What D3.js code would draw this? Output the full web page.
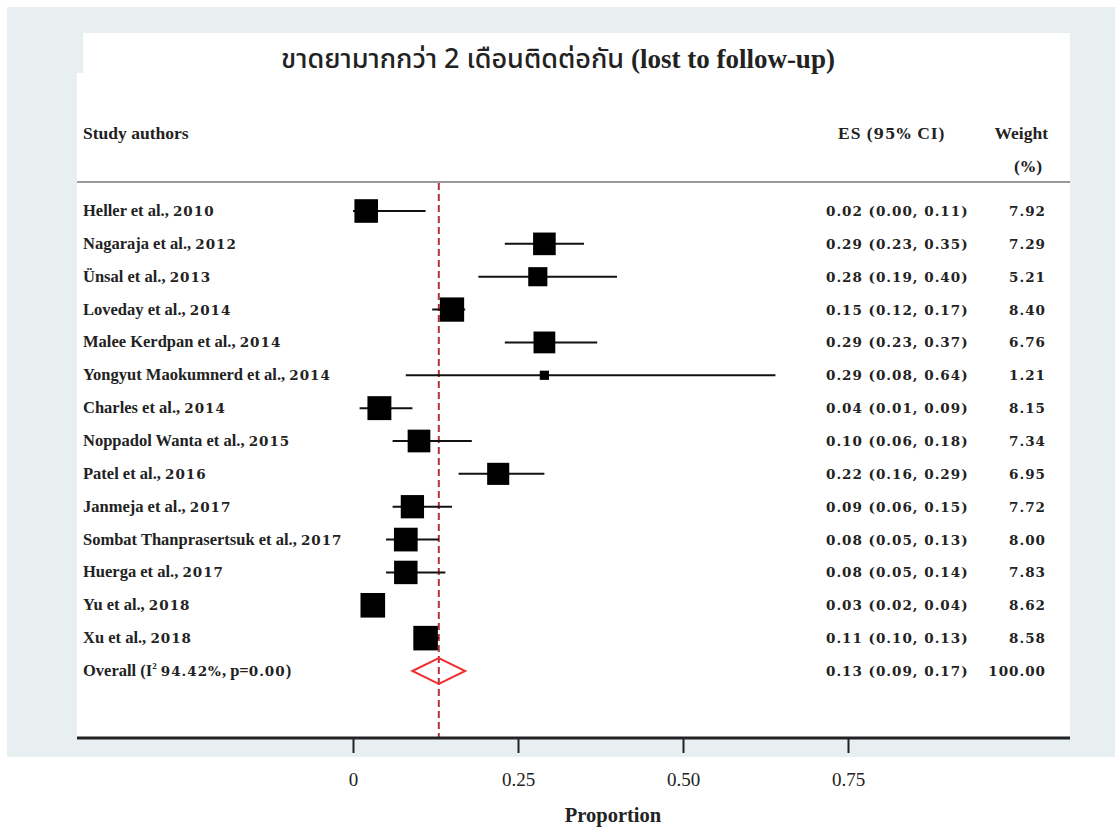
<!DOCTYPE html>
<html>
<head>
<meta charset="utf-8">
<script src="https://cdn.jsdelivr.net/npm/d3@7"></script>
<style>
  body { margin: 0; background: #fff; }
  text { fill: #222; }
</style>
</head>
<body>
<div id="chart"></div>
<script>
"use strict";

// study rows, top to bottom
const studies = [
    "Heller et al., 2010",
    "Nagaraja et al., 2012",
    "Ünsal et al., 2013",
    "Loveday et al., 2014",
    "Malee Kerdpan et al., 2014",
    "Yongyut Maokumnerd et al., 2014",
    "Charles et al., 2014",
    "Noppadol Wanta et al., 2015",
    "Patel et al., 2016",
    "Janmeja et al., 2017",
    "Sombat Thanprasertsuk et al., 2017",
    "Huerga et al., 2017",
    "Yu et al., 2018",
    "Xu et al., 2018"
];
const es = [0.02, 0.29, 0.28, 0.15, 0.29, 0.29, 0.04, 0.10, 0.22, 0.09, 0.08, 0.08, 0.03, 0.11];
const lower = [0.00, 0.23, 0.19, 0.12, 0.23, 0.08, 0.01, 0.06, 0.16, 0.06, 0.05, 0.05, 0.02, 0.10];
const upper = [0.11, 0.35, 0.40, 0.17, 0.37, 0.64, 0.09, 0.18, 0.29, 0.15, 0.13, 0.14, 0.04, 0.13];
const weights = [7.92, 7.29, 5.21, 8.40, 6.76, 1.21, 8.15, 7.34, 6.95, 7.72, 8.00, 7.83, 8.62, 8.58];

// pooled estimate
const overallLabel = "Overall";
const overallHet = " 94.42%, p=0.00)";
const overall = { es: 0.13, lo: 0.09, hi: 0.17, w: 100.00 };

const tickValues = [0, 0.25, 0.50, 0.75];
const tickLabels = ["0", "0.25", "0.50", "0.75"];

const title = "ขาดยามากกว่า 2 เดือนติดต่อกัน";
const titleEn = " (lost to follow-up)";

const msm = {
    width: 1115,
    height: 827,
    panelLeft: 77,
    panelRight: 1070,
    panelTop: 33,
    axisY: 738
};

const serif = "'Liberation Serif', 'Times New Roman', serif";
const numFont = "'DejaVu Serif', 'Liberation Serif', serif";

let svg = d3.select("#chart").append("svg")
    .attr("width", msm.width)
    .attr("height", msm.height);

// background frame and white panel
svg.append("rect")
    .attr("x", 7).attr("y", 7)
    .attr("width", msm.width - 7).attr("height", 750)
    .attr("fill", "#e8eff1");
svg.append("rect")
    .attr("x", msm.panelLeft).attr("y", msm.panelTop + 40)
    .attr("width", msm.panelRight - msm.panelLeft)
    .attr("height", msm.axisY - msm.panelTop - 40)
    .attr("fill", "#fff");
svg.append("rect")
    .attr("x", 83).attr("y", msm.panelTop)
    .attr("width", msm.panelRight - 83).attr("height", 45)
    .attr("fill", "#fff");

// scales
let xScale = d3.scaleLinear().domain([0, 1]).range([353, 1013]);
let rowNames = studies.concat([overallLabel]);
let yScale = d3.scalePoint().domain(d3.range(rowNames.length)).range([211, 671]);
let boxSide = d3.scaleSqrt().domain([0, 10]).range([0, 26.5]);

// title
let t = svg.append("text")
    .attr("x", 558).attr("y", 68)
    .attr("text-anchor", "middle")
    .style("font-size", "27px");
t.append("tspan")
    .style("font-family", "'Noto Sans Thai', 'Noto Sans', 'DejaVu Sans', sans-serif")
    .style("font-weight", "500")
    .text(title);
t.append("tspan")
    .style("font-family", serif)
    .style("font-weight", "bold")
    .text(titleEn);

// letters in a Times-like face, numbers in a wider serif
const numStyle = (sel) => sel.style("font-family", numFont).style("font-weight", "bold")
    .style("font-size", "13.5px").style("letter-spacing", "1px");
const wordStyle = (sel) => sel.style("font-family", serif).style("font-weight", "bold")
    .style("font-size", "16.5px").style("letter-spacing", "0px");
const headNum = (sel) => sel.style("font-family", numFont).style("font-weight", "bold")
    .style("font-size", "15px").style("letter-spacing", "1px");
const headWord = (sel) => sel.style("font-family", serif).style("font-weight", "bold")
    .style("font-size", "17.5px").style("letter-spacing", "1px");

function mixedText(sel, str, wStyle, nStyle) {
    str.split(/(\d[\d.]*%?|%)/).filter((s) => s.length).forEach((s) => {
        let span = sel.append("tspan").text(s);
        if (/^[\d%]/.test(s)) span.call(nStyle); else span.call(wStyle);
    });
}

// column headers
svg.append("text").attr("x", 83).attr("y", 139)
    .call(headWord).style("letter-spacing", "0px").text("Study authors");
svg.append("text").attr("x", 838).attr("y", 139)
    .each(function () { mixedText(d3.select(this), "ES (95% CI)", headWord, headNum); });
svg.append("text").attr("x", 1048).attr("y", 139).attr("text-anchor", "end")
    .call(headWord).style("letter-spacing", "0px").text("Weight");
svg.append("text").attr("x", 1043).attr("y", 172).attr("text-anchor", "end")
    .each(function () { mixedText(d3.select(this), "(%)", headWord, headNum); });

// header rule
svg.append("line")
    .attr("x1", msm.panelLeft).attr("x2", msm.panelRight)
    .attr("y1", 182).attr("y2", 182)
    .attr("stroke", "#999").attr("stroke-width", 2);

// pooled estimate reference line
svg.append("line")
    .attr("x1", xScale(overall.es)).attr("x2", xScale(overall.es))
    .attr("y1", 183).attr("y2", msm.axisY)
    .attr("stroke", "#b5303c")
    .attr("stroke-width", 2)
    .attr("stroke-dasharray", "7,4");

// row labels
svg.selectAll(".label")
    .data(studies)
    .enter()
    .append("text")
    .attr("class", "label")
    .attr("x", 83)
    .attr("y", (d, i) => yScale(i) + 5)
    .each(function (d) { mixedText(d3.select(this), d, wordStyle, numStyle); });

let ov = svg.append("text")
    .attr("x", 83).attr("y", yScale(studies.length) + 5);
ov.append("tspan").text(overallLabel + " (I").call(wordStyle);
ov.append("tspan").attr("dy", -7).call(wordStyle).style("font-size", "9px").text("2");
let ovRest = ov.append("tspan").attr("dy", 7);
mixedText(ovRest, overallHet, wordStyle, numStyle);

// CI lines
svg.selectAll(".ci")
    .data(studies)
    .enter()
    .append("line")
    .attr("class", "ci")
    .attr("x1", (d, i) => xScale(lower[i]))
    .attr("x2", (d, i) => xScale(upper[i]))
    .attr("y1", (d, i) => yScale(i))
    .attr("y2", (d, i) => yScale(i))
    .attr("stroke", "#111")
    .attr("stroke-width", 2);

// weighted boxes
svg.selectAll(".box")
    .data(studies)
    .enter()
    .append("rect")
    .attr("class", "box")
    .attr("x", (d, i) => xScale(es[i]) - boxSide(weights[i]) / 2)
    .attr("y", (d, i) => yScale(i) - boxSide(weights[i]) / 2)
    .attr("width", (d, i) => boxSide(weights[i]))
    .attr("height", (d, i) => boxSide(weights[i]))
    .attr("fill", "#000");

// overall diamond
let dy = yScale(studies.length);
svg.append("path")
    .attr("d", d3.line()([
        [xScale(overall.lo), dy],
        [xScale(overall.es), dy - 13],
        [xScale(overall.hi), dy],
        [xScale(overall.es), dy + 13]
    ]) + "Z")
    .attr("fill", "none")
    .attr("stroke", "#f03030")
    .attr("stroke-width", 2);

// ES and weight columns
const fmtCI = (e, l, h) => e.toFixed(2) + " (" + l.toFixed(2) + ", " + h.toFixed(2) + ")";
svg.selectAll(".esText")
    .data(studies)
    .enter()
    .append("text")
    .attr("class", "esText")
    .attr("x", 826)
    .attr("y", (d, i) => yScale(i) + 5)
    .text((d, i) => fmtCI(es[i], lower[i], upper[i]))
    .call(numStyle);
svg.append("text")
    .attr("x", 826).attr("y", dy + 5)
    .text(fmtCI(overall.es, overall.lo, overall.hi))
    .call(numStyle);

svg.selectAll(".wText")
    .data(weights)
    .enter()
    .append("text")
    .attr("class", "wText")
    .attr("x", 1046)
    .attr("y", (d, i) => yScale(i) + 5)
    .attr("text-anchor", "end")
    .text((d) => d.toFixed(2))
    .call(numStyle);
svg.append("text")
    .attr("x", 1046).attr("y", dy + 5)
    .attr("text-anchor", "end")
    .text(overall.w.toFixed(2))
    .call(numStyle);

// x axis
svg.append("line")
    .attr("x1", msm.panelLeft).attr("x2", msm.panelRight)
    .attr("y1", msm.axisY).attr("y2", msm.axisY)
    .attr("stroke", "#222").attr("stroke-width", 3);

let xAxis = d3.axisBottom(xScale)
    .tickValues(tickValues)
    .tickFormat((d, i) => tickLabels[i])
    .tickSize(15)
    .tickPadding(20)
    .tickSizeOuter(0);
let gx = svg.append("g")
    .attr("transform", "translate(0," + msm.axisY + ")")
    .call(xAxis);
gx.select(".domain").remove();
gx.selectAll(".tick line").attr("stroke", "#222").attr("stroke-width", 2);
gx.selectAll(".tick text")
    .style("font-family", serif)
    .style("font-size", "19px")
    .attr("fill", "#222");

svg.append("text")
    .attr("x", 613).attr("y", 822)
    .attr("text-anchor", "middle")
    .style("font-family", serif)
    .style("font-weight", "bold")
    .style("font-size", "20.5px")
    .text("Proportion");
</script>
</body>
</html>
